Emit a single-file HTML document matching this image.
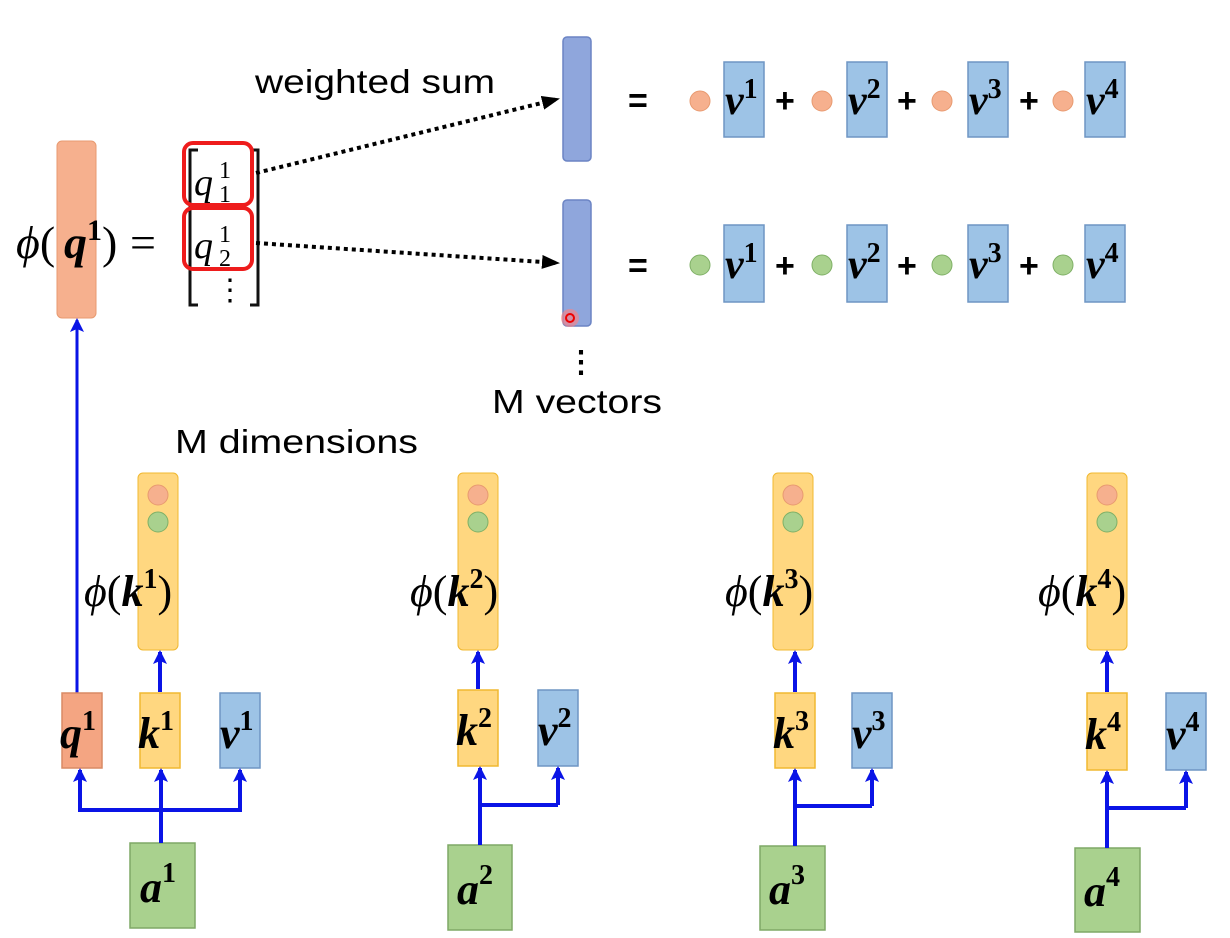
<!DOCTYPE html>
<html><head><meta charset="utf-8"><style>
html,body{margin:0;padding:0;background:#fff}
svg{display:block}
.m{font-family:"Liberation Serif",serif;font-style:italic}
.b{font-family:"Liberation Serif",serif;font-style:italic;font-weight:bold}
.s{font-family:"Liberation Sans",sans-serif}
.sp{font-style:normal;font-weight:bold}
</style></head><body>
<svg width="1230" height="938" viewBox="0 0 1230 938" xmlns="http://www.w3.org/2000/svg">
<defs>
<marker id="ab" markerWidth="14" markerHeight="14" refX="12" refY="7" orient="auto" markerUnits="userSpaceOnUse" viewBox="0 0 14 14"><path d="M0,0 L14,7 L0,14 L3,7 Z" fill="#0a14e6"/></marker>
<marker id="ak" markerWidth="18" markerHeight="14" refX="16" refY="7" orient="auto" markerUnits="userSpaceOnUse"><path d="M0,0 L18,7 L0,14 Z" fill="#000"/></marker>
</defs>
<rect x="57" y="141" width="39" height="177" rx="5" fill="#f6b08e" stroke="#e89a70"/>
<text x="16" y="258" class="m" font-size="46">ϕ<tspan font-style="normal">(</tspan></text>
<text x="64" y="258" class="b" font-size="46">q<tspan class="sp" font-size="30" dy="-18">1</tspan></text>
<text x="102" y="258" font-family="Liberation Serif" font-size="46">)</text>
<text x="130" y="258" font-family="Liberation Serif" font-size="46">=</text>
<path d="M198,150 H190 V305 H198 M250,150 H258 V305 H250" fill="none" stroke="#111" stroke-width="3"/>
<text x="194" y="195" class="m" font-size="38">q</text><text x="219" y="178" font-family="Liberation Serif" font-size="24">1</text><text x="219" y="202" font-family="Liberation Serif" font-size="24">1</text>
<text x="194" y="258" class="m" font-size="38">q</text><text x="219" y="242" font-family="Liberation Serif" font-size="24">1</text><text x="219" y="266" font-family="Liberation Serif" font-size="24">2</text>
<text x="215" y="300" font-family="Liberation Serif" font-size="30">⋮</text>
<rect x="184" y="143" width="68" height="62" rx="9" fill="none" stroke="#ee1c1c" stroke-width="4"/>
<rect x="184" y="208" width="68" height="61" rx="9" fill="none" stroke="#ee1c1c" stroke-width="4"/>
<line x1="256" y1="173" x2="558" y2="99" stroke="#000" stroke-width="4" stroke-dasharray="4,4" marker-end="url(#ak)"/>
<line x1="256" y1="243" x2="558" y2="263" stroke="#000" stroke-width="4" stroke-dasharray="4,4" marker-end="url(#ak)"/>
<text x="255" y="93" class="s" font-size="33" textLength="240" lengthAdjust="spacingAndGlyphs">weighted sum</text>
<rect x="563" y="37" width="28" height="124" rx="4" fill="#8fa6dc" stroke="#6b84c4" stroke-width="1.5"/>
<rect x="563" y="200" width="28" height="126" rx="4" fill="#8fa6dc" stroke="#6b84c4" stroke-width="1.5"/>
<circle cx="570" cy="318" r="9" fill="#ff8080" opacity="0.6"/><circle cx="570" cy="318" r="4" fill="none" stroke="#e00" stroke-width="2"/>
<text x="566" y="372" class="s" font-size="30" font-weight="bold">⋮</text>
<text x="492" y="413" class="s" font-size="33" textLength="170" lengthAdjust="spacingAndGlyphs">M vectors</text>
<text x="175" y="453" class="s" font-size="33" textLength="243" lengthAdjust="spacingAndGlyphs">M dimensions</text>
<g font-family="Liberation Sans" font-size="34" font-weight="bold">
<text x="628" y="112">=</text><text x="628" y="277">=</text>
<text x="775" y="112">+</text><text x="897" y="112">+</text><text x="1019" y="112">+</text>
<text x="775" y="277">+</text><text x="897" y="277">+</text><text x="1019" y="277">+</text>
</g>
<g fill="#f6b08e" stroke="#e89a70"><circle cx="700" cy="101" r="10"/><circle cx="822" cy="101" r="10"/><circle cx="942" cy="101" r="10"/><circle cx="1063" cy="101" r="10"/></g>
<g fill="#a9d18e" stroke="#7fb066"><circle cx="700" cy="265" r="10"/><circle cx="822" cy="265" r="10"/><circle cx="942" cy="265" r="10"/><circle cx="1063" cy="265" r="10"/></g>
<g fill="#9dc3e6" stroke="#6f95c4" stroke-width="1.5">
<rect x="724" y="62" width="40" height="75"/><rect x="847" y="62" width="40" height="75"/><rect x="968" y="62" width="40" height="75"/><rect x="1085" y="62" width="40" height="75"/>
<rect x="724" y="225" width="40" height="77"/><rect x="847" y="225" width="40" height="77"/><rect x="968" y="225" width="40" height="77"/><rect x="1085" y="225" width="40" height="77"/>
</g>
<g class="b" font-size="42">
<text x="725" y="114">v<tspan class="sp" font-size="28" dy="-16">1</tspan></text><text x="848" y="114">v<tspan class="sp" font-size="28" dy="-16">2</tspan></text><text x="969" y="114">v<tspan class="sp" font-size="28" dy="-16">3</tspan></text><text x="1086" y="114">v<tspan class="sp" font-size="28" dy="-16">4</tspan></text>
<text x="725" y="278">v<tspan class="sp" font-size="28" dy="-16">1</tspan></text><text x="848" y="278">v<tspan class="sp" font-size="28" dy="-16">2</tspan></text><text x="969" y="278">v<tspan class="sp" font-size="28" dy="-16">3</tspan></text><text x="1086" y="278">v<tspan class="sp" font-size="28" dy="-16">4</tspan></text>
</g>
<line x1="77" y1="693" x2="77" y2="320" stroke="#0a14e6" stroke-width="3" marker-end="url(#ab)"/>
<rect x="138" y="473" width="40" height="177" rx="5" fill="#ffd780" stroke="#f0b830"/>
<rect x="458" y="473" width="40" height="177" rx="5" fill="#ffd780" stroke="#f0b830"/>
<rect x="773" y="473" width="40" height="177" rx="5" fill="#ffd780" stroke="#f0b830"/>
<rect x="1087" y="473" width="40" height="177" rx="5" fill="#ffd780" stroke="#f0b830"/>
<g fill="#f6b08e" stroke="#e89a70"><circle cx="158" cy="495" r="10"/><circle cx="478" cy="495" r="10"/><circle cx="793" cy="495" r="10"/><circle cx="1107" cy="495" r="10"/></g>
<g fill="#a9d18e" stroke="#7fb066"><circle cx="158" cy="522" r="10"/><circle cx="478" cy="522" r="10"/><circle cx="793" cy="522" r="10"/><circle cx="1107" cy="522" r="10"/></g>
<g font-size="44">
<text x="84" y="606" class="m">ϕ<tspan font-style="normal">(</tspan><tspan font-weight="bold">k</tspan><tspan class="sp" font-size="28" dy="-18">1</tspan><tspan font-style="normal" dy="18">)</tspan></text>
<text x="410" y="606" class="m">ϕ<tspan font-style="normal">(</tspan><tspan font-weight="bold">k</tspan><tspan class="sp" font-size="28" dy="-18">2</tspan><tspan font-style="normal" dy="18">)</tspan></text>
<text x="725" y="606" class="m">ϕ<tspan font-style="normal">(</tspan><tspan font-weight="bold">k</tspan><tspan class="sp" font-size="28" dy="-18">3</tspan><tspan font-style="normal" dy="18">)</tspan></text>
<text x="1038" y="606" class="m">ϕ<tspan font-style="normal">(</tspan><tspan font-weight="bold">k</tspan><tspan class="sp" font-size="28" dy="-18">4</tspan><tspan font-style="normal" dy="18">)</tspan></text>
</g>
<rect x="62" y="693" width="40" height="75" fill="#f4a582" stroke="#d98a64" stroke-width="1.5"/>
<g fill="#ffd780" stroke="#f0b830" stroke-width="1.5">
<rect x="140" y="693" width="40" height="75"/><rect x="458" y="690" width="40" height="76"/><rect x="775" y="693" width="40" height="75"/><rect x="1087" y="693" width="40" height="77"/>
</g>
<g fill="#9dc3e6" stroke="#6f95c4" stroke-width="1.5">
<rect x="220" y="693" width="40" height="75"/><rect x="538" y="690" width="40" height="76"/><rect x="852" y="693" width="40" height="75"/><rect x="1166" y="693" width="40" height="77"/>
</g>
<g fill="#a9d18e" stroke="#7fa866" stroke-width="1.5">
<rect x="130" y="843" width="65" height="85"/><rect x="448" y="845" width="64" height="85"/><rect x="760" y="846" width="65" height="84"/><rect x="1075" y="848" width="65" height="84"/>
</g>
<g class="b" font-size="44">
<text x="60" y="748">q<tspan class="sp" font-size="28" dy="-18">1</tspan></text>
<text x="138" y="748">k<tspan class="sp" font-size="28" dy="-18">1</tspan></text>
<text x="220" y="748">v<tspan class="sp" font-size="28" dy="-18">1</tspan></text>
<text x="456" y="745">k<tspan class="sp" font-size="28" dy="-18">2</tspan></text>
<text x="538" y="745">v<tspan class="sp" font-size="28" dy="-18">2</tspan></text>
<text x="773" y="748">k<tspan class="sp" font-size="28" dy="-18">3</tspan></text>
<text x="852" y="748">v<tspan class="sp" font-size="28" dy="-18">3</tspan></text>
<text x="1085" y="749">k<tspan class="sp" font-size="28" dy="-18">4</tspan></text>
<text x="1166" y="749">v<tspan class="sp" font-size="28" dy="-18">4</tspan></text>
<text x="140" y="902">a<tspan class="sp" font-size="28" dy="-20">1</tspan></text>
<text x="457" y="904">a<tspan class="sp" font-size="28" dy="-20">2</tspan></text>
<text x="769" y="904">a<tspan class="sp" font-size="28" dy="-20">3</tspan></text>
<text x="1084" y="906">a<tspan class="sp" font-size="28" dy="-20">4</tspan></text>
</g>
<g stroke="#0a14e6" stroke-width="4" fill="none">
<line x1="161" y1="843" x2="161" y2="770" marker-end="url(#ab)"/>
<polyline points="80,772 80,810 242,810"/><line x1="80" y1="810" x2="80" y2="770" marker-end="url(#ab)"/><line x1="240" y1="810" x2="240" y2="770" marker-end="url(#ab)"/>
<line x1="160" y1="692" x2="160" y2="652" marker-end="url(#ab)"/>
<line x1="480" y1="845" x2="480" y2="768" marker-end="url(#ab)"/><line x1="480" y1="805" x2="558" y2="805"/><line x1="558" y1="805" x2="558" y2="768" marker-end="url(#ab)"/>
<line x1="478" y1="689" x2="478" y2="652" marker-end="url(#ab)"/>
<line x1="795" y1="846" x2="795" y2="770" marker-end="url(#ab)"/><line x1="795" y1="806" x2="872" y2="806"/><line x1="872" y1="806" x2="872" y2="770" marker-end="url(#ab)"/>
<line x1="795" y1="692" x2="795" y2="652" marker-end="url(#ab)"/>
<line x1="1107" y1="848" x2="1107" y2="772" marker-end="url(#ab)"/><line x1="1107" y1="808" x2="1186" y2="808"/><line x1="1186" y1="808" x2="1186" y2="772" marker-end="url(#ab)"/>
<line x1="1107" y1="692" x2="1107" y2="652" marker-end="url(#ab)"/>
</g>
</svg>
</body></html>
